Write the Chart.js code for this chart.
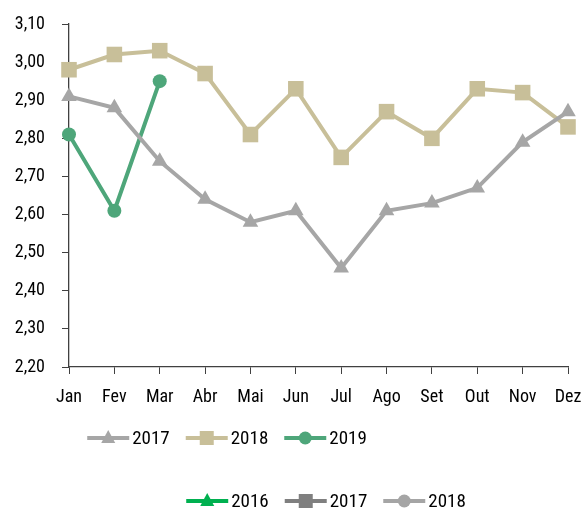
<!DOCTYPE html>
<html>
<head>
<meta charset="utf-8">
<script src="https://cdn.jsdelivr.net/npm/chart.js@4/dist/chart.umd.min.js"></script>
<style>
  html, body { margin: 0; padding: 0; background: #fff; }
  #wrap { width: 582px; height: 510px; position: relative; }
</style>
</head>
<body>
<div id="wrap"><canvas id="chart"></canvas></div>
<script>
"use strict";

const months = ["Jan", "Fev", "Mar", "Abr", "Mai", "Jun", "Jul", "Ago", "Set", "Out", "Nov", "Dez"];
const values2017 = [2.91, 2.88, 2.74, 2.64, 2.58, 2.61, 2.46, 2.61, 2.63, 2.67, 2.79, 2.87];
const values2018 = [2.98, 3.02, 3.03, 2.97, 2.81, 2.93, 2.75, 2.87, 2.80, 2.93, 2.92, 2.83];
const values2019 = [2.81, 2.61, 2.95];

// second (leftover) legend shown under the chart
const extraLegend = [
  { label: "2016", color: "#00B050", marker: "triangle" },
  { label: "2017", color: "#7F7F7F", marker: "rect" },
  { label: "2018", color: "#A5A5A5", marker: "circle" }
];

const FONT = "'Roboto Condensed', 'Open Sans', sans-serif";
const axisColor = "#404040";

const fmt = v => v.toFixed(2).replace(".", ",");

function drawMarker(ctx, type, x, y, color) {
  ctx.save();
  ctx.fillStyle = color;
  ctx.beginPath();
  if (type === "triangle") {
    ctx.moveTo(x, y - 8);
    ctx.lineTo(x + 7, y + 5);
    ctx.lineTo(x - 7, y + 5);
    ctx.closePath();
  } else if (type === "rect") {
    ctx.rect(x - 7, y - 7, 14, 14);
  } else {
    ctx.arc(x, y, 6.5, 0, Math.PI * 2);
  }
  ctx.fill();
  ctx.restore();
}

function drawLegend(ctx, items, centerX, y) {
  ctx.save();
  ctx.font = "19px " + FONT;
  ctx.textBaseline = "middle";
  const lineW = 42, gap = 3, itemGap = 16;
  let total = 0;
  items.forEach((it, i) => {
    total += lineW + gap + ctx.measureText(it.label).width + (i < items.length - 1 ? itemGap : 0);
  });
  let x = centerX - total / 2;
  items.forEach(it => {
    ctx.strokeStyle = it.color;
    ctx.lineWidth = 4;
    ctx.beginPath();
    ctx.moveTo(x, y);
    ctx.lineTo(x + lineW, y);
    ctx.stroke();
    drawMarker(ctx, it.marker, x + lineW / 2, y, it.color);
    x += lineW + gap;
    ctx.fillStyle = "#000";
    ctx.fillText(it.label, x, y + 1);
    x += ctx.measureText(it.label).width + itemGap;
  });
  ctx.restore();
}

const legendPlugin = {
  id: "twoLegends",
  afterDraw(chart) {
    const ctx = chart.ctx;
    const mainItems = chart.data.datasets.map(ds => ({
      label: ds.label, color: ds.borderColor, marker: ds.pointStyle
    }));
    drawLegend(ctx, mainItems, 227, 438);
    drawLegend(ctx, extraLegend, 326, 501);
  }
};

const ds = (label, data, color, style, radius) => ({
  label: label,
  data: data,
  borderColor: color,
  backgroundColor: color,
  borderWidth: 4,
  pointStyle: style,
  pointRadius: radius,
  pointHoverRadius: radius,
  pointBorderWidth: 0,
  tension: 0
});

new Chart(document.getElementById("chart"), {
  type: "line",
  data: {
    labels: months,
    datasets: [
      ds("2017", values2017, "#A6A6A6", "triangle", 9),
      ds("2018", values2018, "#C8BF99", "rect", 11),
      ds("2019", values2019, "#4EA67A", "circle", 7)
    ]
  },
  plugins: [legendPlugin],
  options: {
    responsive: true,
    maintainAspectRatio: false,
    animation: false,
    layout: { padding: { top: 24, right: 14, left: 0, bottom: 0 } },
    plugins: { legend: { display: false }, tooltip: { enabled: false } },
    scales: {
      x: {
        offset: false,
        grid: { drawOnChartArea: false, drawTicks: true, tickLength: 7, color: axisColor },
        border: { color: axisColor, width: 1.3 },
        ticks: { color: "#000", font: { family: FONT, size: 18 }, padding: 13, maxRotation: 0, autoSkip: false },
        afterFit: s => { s.height = 143; s.paddingLeft = 0; s.paddingRight = 0; }
      },
      y: {
        min: 2.2,
        max: 3.1,
        grid: { drawOnChartArea: false, drawTicks: true, tickLength: 7, color: axisColor },
        border: { color: axisColor, width: 1.3 },
        ticks: { stepSize: 0.1, color: "#000", font: { family: FONT, size: 18 }, padding: 17, callback: v => fmt(v) },
        afterFit: s => { s.width = 69; s.paddingTop = 0; s.paddingBottom = 0; }
      }
    }
  }
});
</script>
</body>
</html>
